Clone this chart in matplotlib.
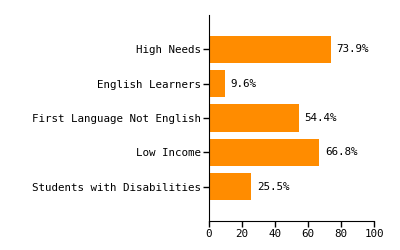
import matplotlib.pyplot as plt

categories = ['High Needs', 'English Learners', 'First Language Not English',
              'Low Income', 'Students with Disabilities']
values = [73.9, 9.6, 54.4, 66.8, 25.5]

plt.rcParams['font.family'] = 'DejaVu Sans Mono'

fig = plt.figure(figsize=(4, 2.5), dpi=100)
ax = fig.add_axes([0.5225, 0.116, 0.4125, 0.824])

pos = [1, 2, 3, 4, 5]
ax.barh(pos, values, height=0.8, color='#FF8C00')
for p, v in zip(pos, values):
    ax.text(v + 3.5, p, f'{v}%', va='center', ha='left', fontsize=7.8)

ax.set_ylim(6, 0)
ax.set_xlim(0, 100)
ax.set_yticks(pos)
ax.set_yticklabels(categories)
ax.set_xticks([0, 20, 40, 60, 80, 100])
ax.tick_params(labelsize=7.8, length=4, width=1, pad=1.5)
ax.spines['top'].set_visible(False)
ax.spines['right'].set_visible(False)

fig.savefig('out.png', dpi=100)
